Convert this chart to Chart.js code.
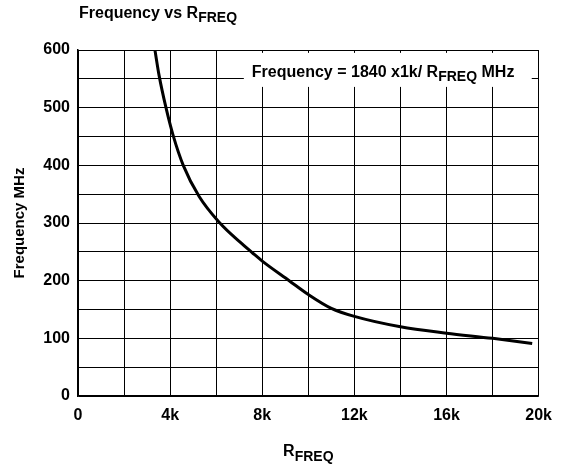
<!DOCTYPE html>
<html>
<head>
<meta charset="utf-8">
<script src="https://cdn.jsdelivr.net/npm/chart.js@4"></script>
<style>
html,body{margin:0;padding:0;background:#fff;}
#wrap{width:562px;height:467px;position:relative;}
</style>
</head>
<body>
<div id="wrap"><canvas id="c" width="562" height="467"></canvas></div>
<script>
// Data (R in ohms, frequency in MHz)
const rfreq = [3340, 3520, 3820, 4130, 4570, 5260, 6160, 7000, 7580, 8000, 9170, 10000, 11000, 12000, 14000, 16000, 18000, 19720];
const freqMHz = [600, 556, 500, 452, 400, 346, 300, 268, 248, 234, 200, 176, 152, 138, 120, 109, 100, 91];
const xTickLabels = ['0', '4k', '8k', '12k', '16k', '20k'];
const yTickLabels = ['0', '100', '200', '300', '400', '500', '600'];
const chartTitle = ['Frequency vs R', 'FREQ'];
const yTitle = 'Frequency MHz';
const xTitle = ['R', 'FREQ'];
const boxText = ['Frequency = 1840 x1k/ R', 'FREQ', ' MHz'];

const FONT = '"Liberation Sans", Arial, sans-serif';

function drawSub(ctx, x, y, parts, size, subSize, off, align) {
  ctx.font = 'bold ' + size + 'px ' + FONT;
  const w0 = ctx.measureText(parts[0]).width;
  ctx.font = 'bold ' + subSize + 'px ' + FONT;
  const w1 = ctx.measureText(parts[1]).width;
  ctx.font = 'bold ' + size + 'px ' + FONT;
  const w2 = parts[2] ? ctx.measureText(parts[2]).width : 0;
  let sx = x;
  if (align === 'center') sx = x - (w0 + w1 + w2) / 2;
  ctx.textAlign = 'left';
  ctx.textBaseline = 'alphabetic';
  ctx.fillStyle = '#000';
  ctx.fillText(parts[0], sx, y);
  ctx.font = 'bold ' + subSize + 'px ' + FONT;
  ctx.fillText(parts[1], sx + w0, y + off);
  if (parts[2]) {
    ctx.font = 'bold ' + size + 'px ' + FONT;
    ctx.fillText(parts[2], sx + w0 + w1, y);
  }
}

const textPlugin = {
  id: 'texts',
  afterDatasetsDraw(chart) {
    const ctx = chart.ctx;
    const xs = chart.scales.x, ys = chart.scales.y;
    ctx.save();
    // annotation box
    const bx0 = xs.getPixelForValue(7200), bx1 = xs.getPixelForValue(19700);
    const by0 = ys.getPixelForValue(595), by1 = ys.getPixelForValue(536);
    ctx.fillStyle = '#fff';
    ctx.fillRect(bx0, by0, bx1 - bx0, by1 - by0);
    drawSub(ctx, bx0 + 8, by0 + 24, boxText, 16, 14, 4, 'left');
    ctx.restore();
  },
  afterDraw(chart) {
    const ctx = chart.ctx;
    const a = chart.chartArea;
    ctx.save();
    drawSub(ctx, 79, 18, chartTitle, 16, 14, 4, 'left');
    drawSub(ctx, (a.left + a.right) / 2, 456, xTitle, 16, 14, 5, 'center');
    ctx.translate(24, (a.top + a.bottom) / 2);
    ctx.rotate(-Math.PI / 2);
    ctx.font = 'bold 15px ' + FONT;
    ctx.textAlign = 'center';
    ctx.textBaseline = 'alphabetic';
    ctx.fillStyle = '#000';
    ctx.fillText(yTitle, 0, 0);
    ctx.restore();
  }
};

new Chart(document.getElementById('c'), {
  type: 'scatter',
  data: {
    datasets: [{
      data: rfreq.map((r, i) => ({ x: r, y: freqMHz[i] })),
      showLine: true,
      borderColor: '#000',
      borderWidth: 3,
      pointRadius: 0,
      cubicInterpolationMode: 'monotone',
      fill: false
    }]
  },
  options: {
    responsive: false,
    animation: false,
    devicePixelRatio: 1,
    layout: { padding: { top: 50, right: 23, left: 0, bottom: 0 } },
    plugins: { legend: { display: false }, tooltip: { enabled: false }, title: { display: false } },
    scales: {
      x: {
        type: 'linear', min: 0, max: 20000,
        afterFit(s) { s.height = 71; },
        afterBuildTicks(s) { s.ticks = []; for (let v = 0; v <= 20000; v += 2000) s.ticks.push({ value: v }); },
        ticks: {
          padding: 10,
          color: '#000',
          font: { family: FONT, size: 16, weight: 'bold' },
          maxRotation: 0,
          autoSkip: false,
          callback(v) { return v % 4000 === 0 ? xTickLabels[v / 4000] : ''; }
        },
        grid: { color: '#000', lineWidth: 1, drawTicks: false },
        border: { color: '#000', width: 1.5 }
      },
      y: {
        type: 'linear', min: 0, max: 600,
        afterFit(s) { s.width = 78; },
        afterBuildTicks(s) { s.ticks = []; for (let v = 0; v <= 600; v += 50) s.ticks.push({ value: v }); },
        ticks: {
          padding: 8,
          color: '#000',
          font: { family: FONT, size: 16, weight: 'bold' },
          autoSkip: false,
          callback(v) { return v % 100 === 0 ? yTickLabels[v / 100] : ''; }
        },
        grid: { color: '#000', lineWidth: 1, drawTicks: false },
        border: { color: '#000', width: 1.5 }
      }
    }
  },
  plugins: [textPlugin]
});
</script>
</body>
</html>
